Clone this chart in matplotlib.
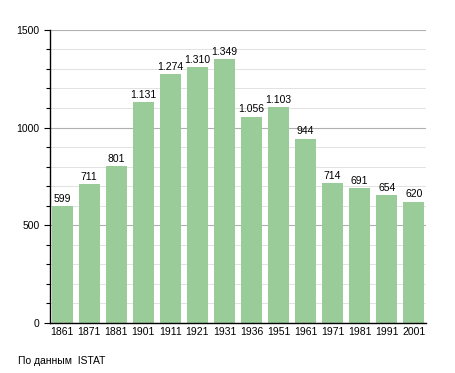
import matplotlib
matplotlib.use("Agg")
import matplotlib.pyplot as plt
from matplotlib.ticker import MultipleLocator

# Population by census year (ISTAT)
years = ["1861", "1871", "1881", "1901", "1911", "1921", "1931",
         "1936", "1951", "1961", "1971", "1981", "1991", "2001"]
population = [599, 711, 801, 1131, 1274, 1310, 1349,
              1056, 1103, 944, 714, 691, 654, 620]

plt.rcParams["font.family"] = ["Liberation Sans", "DejaVu Sans"]

fig = plt.figure(figsize=(4.55, 3.73), dpi=100)
ax = fig.add_axes([0.11, 0.134, 0.826, 0.786])

x = range(len(years))
bars = ax.bar(x, population, width=0.78, color="#99cc99", zorder=2)

for xi, v in zip(x, population):
    label = f"{v:,}".replace(",", ".")
    ax.text(xi, v + 12, label, ha="center", va="bottom", fontsize=7.5)

ax.set_xlim(-0.45, len(years) - 0.55)
ax.set_ylim(0, 1500)
ax.set_xticks(list(x))
ax.set_xticklabels(years, fontsize=7.5)
ax.yaxis.set_major_locator(MultipleLocator(500))
ax.yaxis.set_minor_locator(MultipleLocator(100))
ax.tick_params(axis="y", labelsize=7.5, length=4, width=0.8)
ax.tick_params(axis="y", which="minor", length=3, width=0.8)
ax.tick_params(axis="x", length=0, pad=3)

ax.grid(axis="y", which="major", color="#b0b0b0", linewidth=0.8, zorder=0)
ax.grid(axis="y", which="minor", color="#dddddd", linewidth=0.6, zorder=0)
ax.set_axisbelow(True)

ax.spines["top"].set_visible(False)
ax.spines["right"].set_visible(False)
ax.spines["left"].set_linewidth(1.0)
ax.spines["bottom"].set_linewidth(1.0)

fig.text(0.04, 0.025, "По данным  ISTAT", fontsize=7.5)

fig.savefig("out.png", dpi=100)
